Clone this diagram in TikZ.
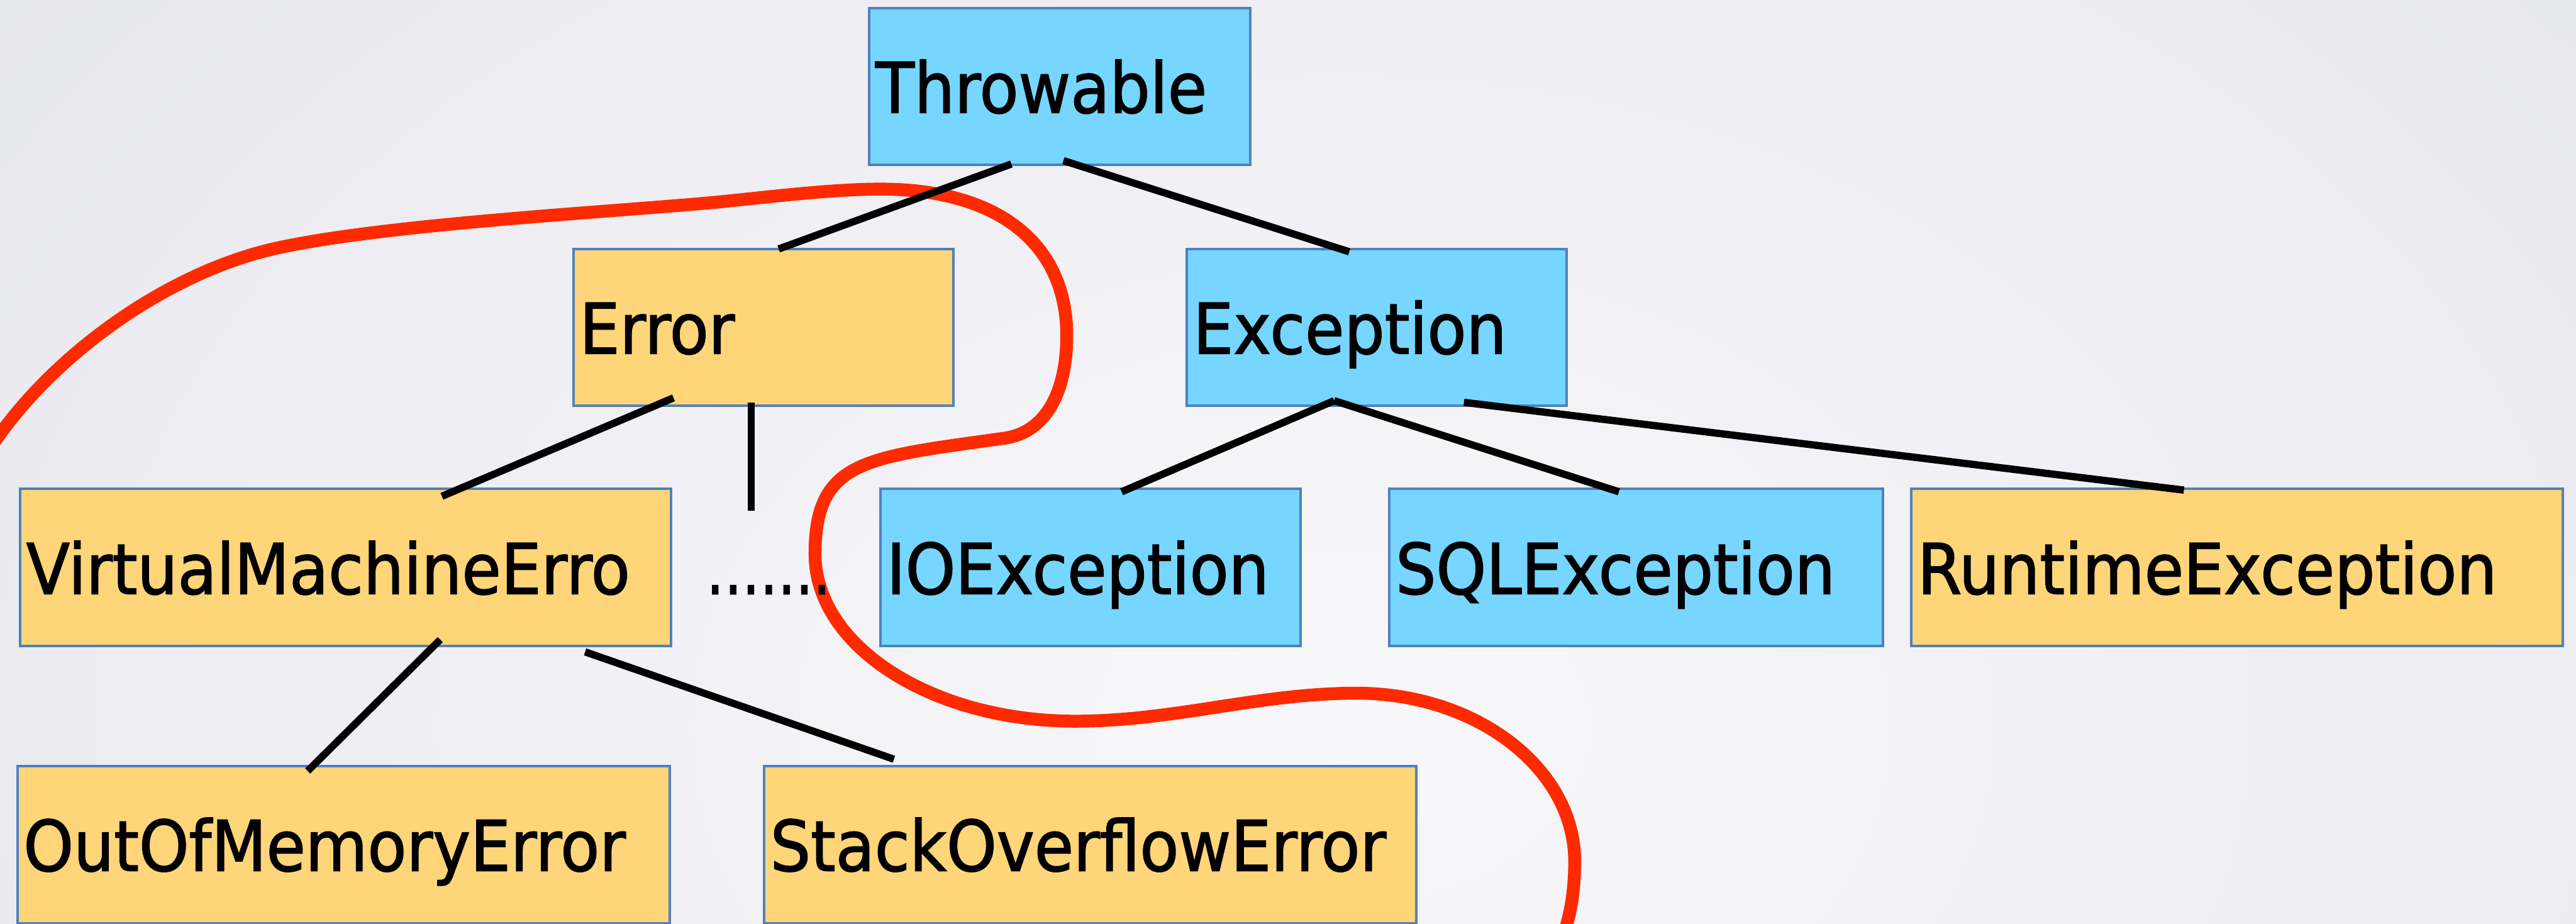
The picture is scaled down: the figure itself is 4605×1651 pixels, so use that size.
\documentclass[tikz,border=0pt]{standalone}
\usepackage{fontspec}
\setmainfont{DejaVu Sans}[FakeStretch=0.91,FakeBold=1.5]
\usepackage{graphicx}
\usetikzlibrary{calc}
\definecolor{bgin}{HTML}{F8F8FA}
\definecolor{bgout}{HTML}{DCDCE6}
\definecolor{boxblue}{HTML}{76D6FF}
\definecolor{boxyellow}{HTML}{FFD57A}
\definecolor{boxborder}{HTML}{4F81BD}
\definecolor{loopred}{HTML}{FF2A00}
\newcommand{\lbl}[2]{\makebox[#1cm][l]{\hspace{0.11cm}\smash{#2}\rule{0pt}{0.94cm}}}
\begin{document}
\begin{tikzpicture}[x=0.01cm,y=-0.01cm,
  labelfont/.style={font=\fontsize{35.57pt}{42pt}\selectfont},
  box/.style={draw=boxborder, line width=0.045cm, inner sep=0pt, outer sep=0pt, anchor=north west, labelfont},
  bluebox/.style={box, fill=boxblue},
  yellowbox/.style={box, fill=boxyellow},
  conn/.style={line width=0.13cm, black},
  redloop/.style={line width=0.23cm, loopred, line cap=round}]

\useasboundingbox (0,0) rectangle (4605,1651);
\begin{scope}
  \clip (0,0) rectangle (4605,1651);
  \fill[bgout] (0,0) rectangle (4605,1651);
  \shade[inner color=bgin, outer color=bgout] (2400,1300) ellipse [x radius=50cm, y radius=36cm];
\end{scope}

% red separating curve
\draw[redloop] (-10,790) .. controls (100,630) and (303,485) .. (497,443)
  .. controls (691,401) and (1074,380) .. (1274,362)
  .. controls (1350,355) and (1480,338) .. (1574,338)
  .. controls (1790,338) and (1907,440) .. (1907,600)
  .. controls (1907,700) and (1870,772) .. (1797,783)
  .. controls (1550,818) and (1457,820) .. (1457,990)
  .. controls (1457,1155) and (1666,1289) .. (1922,1289)
  .. controls (2100,1289) and (2250,1239) .. (2425,1239)
  .. controls (2640,1239) and (2815,1374) .. (2815,1540)
  .. controls (2815,1600) and (2805,1640) .. (2797,1665);

% boxes
\node[bluebox,   minimum width=6.81cm,  minimum height=2.79cm] (thr) at (1554,15)   {\lbl{6.81}{Throwable}};
\node[yellowbox, minimum width=6.79cm,  minimum height=2.80cm] (err) at (1025,445)  {\lbl{6.79}{Error}};
\node[bluebox,   minimum width=6.78cm,  minimum height=2.80cm] (exc) at (2122,445)  {\lbl{6.78}{Exception}};
\node[yellowbox, minimum width=11.63cm, minimum height=2.81cm] (vme) at (36,874)    {\lbl{11.63}{VirtualMachineErro}};
\node[bluebox,   minimum width=7.50cm,  minimum height=2.81cm] (ioe) at (1574,874)  {\lbl{7.50}{IOException}};
\node[bluebox,   minimum width=8.81cm,  minimum height=2.81cm] (sql) at (2484,874)  {\lbl{8.81}{SQLException}};
\node[yellowbox, minimum width=11.64cm, minimum height=2.81cm] (rte) at (3417,874)  {\lbl{11.64}{RuntimeException}};
\node[yellowbox, minimum width=11.66cm, minimum height=2.81cm] (oom) at (31,1369)   {\lbl{11.66}{OutOfMemoryError}};
\node[yellowbox, minimum width=11.65cm, minimum height=2.81cm] (soe) at (1366,1369) {\lbl{11.65}{StackOverflowError}};

\node[labelfont, anchor=base west, inner sep=0pt] (dots) at (1262,1062) {\scalebox{0.84}[1]{…….}};
\coordinate (dend) at (1343,913);

% connectors
\draw[conn] ($(thr.south west)+(254,-1)$)  -- ($(err.north west)+(367,0)$);
\draw[conn] ($(thr.south west)+(347,-7)$)  -- ($(exc.north west)+(290,5)$);
\draw[conn] ($(err.south west)+(179,-14)$) -- ($(vme.north west)+(754,13)$);
\draw[conn] ($(err.south west)+(318,-6)$)  -- (dend);
\draw[conn] ($(exc.south west)+(263,-9)$)  -- ($(ioe.north west)+(431,5)$);
\draw[conn] ($(exc.south west)+(263,-9)$)  -- ($(sql.north west)+(410,5)$);
\draw[conn] ($(exc.south west)+(495,-6)$)  -- ($(rte.north west)+(487,2)$);
\draw[conn] ($(vme.south west)+(751,-12)$) -- ($(oom.north west)+(519,9)$);
\draw[conn] ($(vme.south west)+(1010,10)$) -- ($(soe.north west)+(232,-12)$);
\end{tikzpicture}
\end{document}
